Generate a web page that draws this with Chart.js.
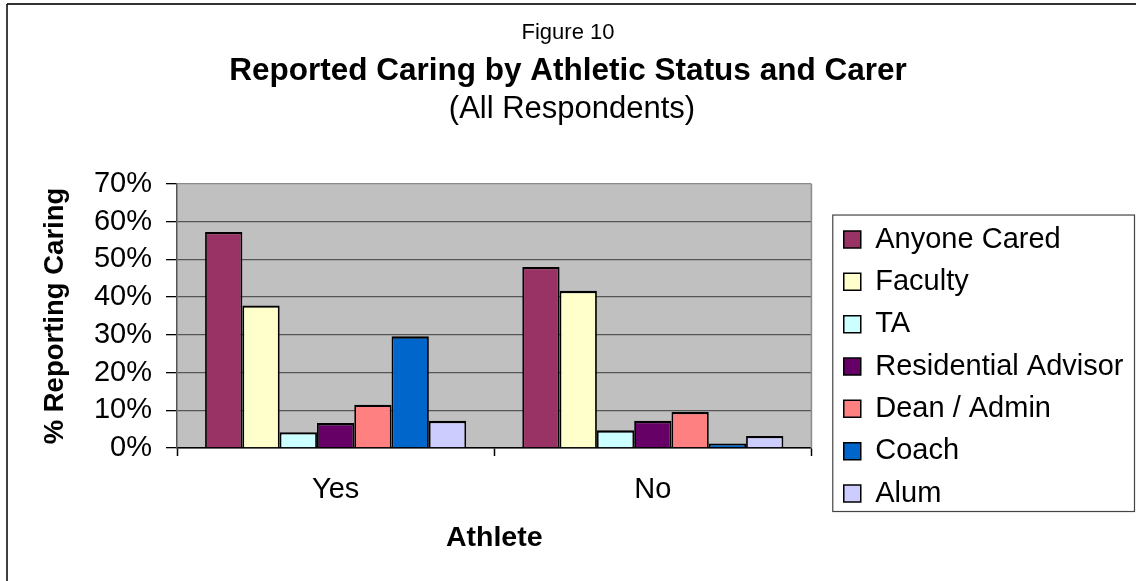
<!DOCTYPE html>
<html>
<head>
<meta charset="utf-8">
<title>Figure 10</title>
<script src="https://cdn.jsdelivr.net/npm/chart.js@4.4.0/dist/chart.umd.min.js"></script>
<style>
  html, body { margin: 0; padding: 0; background: #fff; }
  #wrap { position: relative; width: 1136px; height: 581px; }
</style>
</head>
<body>
<div id="wrap"><canvas id="figure10"></canvas></div>
<script>
// categories on the x axis and the carer series
const athlete = ['Yes', 'No'];
const carers = ['Anyone Cared', 'Faculty', 'TA', 'Residential Advisor', 'Dean / Admin', 'Coach', 'Alum'];

// % reporting caring, [Yes, No]
const anyoneCared = [57.3, 48.0];
const faculty = [37.8, 41.7];
const ta = [4.2, 4.7];
const residentialAdvisor = [6.6, 7.2];
const deanAdmin = [11.5, 9.6];
const coach = [29.6, 1.2];
const alum = [7.2, 3.2];

const yTickLabels = ['0%', '10%', '20%', '30%', '40%', '50%', '60%', '70%'];

const series = [anyoneCared, faculty, ta, residentialAdvisor, deanAdmin, coach, alum];
const barColors = ['#993366', '#FFFFCC', '#CCFFFF', '#660066', '#FF8080', '#0066CC', '#CCCCFF'];
const FONT = '"Liberation Sans", Arial, sans-serif';

// grey plot area, the heading lines, the outer frame and the legend box
const decorations = {
  id: 'decorations',
  beforeDraw(chart) {
    const {ctx, chartArea: a} = chart;
    ctx.save();
    ctx.fillStyle = '#C0C0C0';
    ctx.fillRect(a.left, a.top, a.right - a.left, a.bottom - a.top);
    ctx.restore();
  },
  afterDraw(chart) {
    const {ctx, chartArea: a} = chart;
    const cx = chart.width / 2;
    ctx.save();
    ctx.fillStyle = '#000';
    ctx.textAlign = 'center';
    ctx.textBaseline = 'alphabetic';
    ctx.font = '22px ' + FONT;
    ctx.fillText('Figure 10', cx, 39);
    ctx.textBaseline = 'middle';
    ctx.font = 'bold 31.5px ' + FONT;
    ctx.fillText('Reported Caring by Athletic Status and Carer', cx, 71);
    ctx.font = '31px ' + FONT;
    ctx.fillText('(All Respondents)', cx + 4, 109);

    // plot border on the right
    ctx.strokeStyle = '#8a8a8a';
    ctx.lineWidth = 1.5;
    ctx.beginPath();
    ctx.moveTo(a.right, a.top);
    ctx.lineTo(a.right, a.bottom);
    ctx.stroke();

    // outer frame (only top and left are inside the picture)
    ctx.strokeStyle = '#333';
    ctx.lineWidth = 2;
    ctx.beginPath();
    ctx.moveTo(7, 4);
    ctx.lineTo(chart.width, 4);
    ctx.stroke();
    ctx.strokeStyle = '#000';
    ctx.lineWidth = 1.5;
    ctx.beginPath();
    ctx.moveTo(7, 4);
    ctx.lineTo(7, chart.height);
    ctx.stroke();

    // legend box
    const lg = chart.legend;
    const hb = lg.legendHitBoxes;
    if (hb && hb.length) {
      const pad = lg.options.labels.padding;
      const top = hb[0].top - 10;
      const bottom = hb[hb.length - 1].top + hb[hb.length - 1].height + 3.5;
      const left = lg.left + pad - 11;
      const right = chart.width - 1.5;
      ctx.strokeStyle = '#444';
      ctx.lineWidth = 1.2;
      ctx.strokeRect(left, top, right - left, bottom - top);
    }
    ctx.restore();
  }
};

new Chart(document.getElementById('figure10'), {
  type: 'bar',
  data: {
    labels: athlete,
    datasets: carers.map((name, i) => ({
      label: name,
      data: series[i],
      backgroundColor: barColors[i],
      borderColor: '#000',
      borderWidth: {top: 2.4, left: 1.8, right: 1.8, bottom: 0},
      borderSkipped: 'start',
      categoryPercentage: 0.823,
      barPercentage: 1
    }))
  },
  options: {
    responsive: true,
    maintainAspectRatio: false,
    animation: false,
    devicePixelRatio: 1,
    layout: { padding: { top: 184, left: 20, right: 2.5, bottom: 21 } },
    plugins: {
      title: { display: false },
      tooltip: { enabled: false },
      legend: {
        position: 'right',
        align: 'start',
        maxWidth: 400,
        title: { display: true, text: '', font: { size: 10 }, padding: { top: 15.7, bottom: 0 } },
        labels: {
          color: '#000',
          font: { family: FONT, size: 29 },
          boxWidth: 17,
          boxHeight: 17,
          padding: 13.33,
          generateLabels(chart) {
            return Chart.defaults.plugins.legend.labels.generateLabels(chart)
              .map(item => Object.assign(item, { lineWidth: 1.5 }));
          }
        }
      }
    },
    scales: {
      x: {
        grid: { display: true, drawOnChartArea: false, tickLength: 8, tickColor: '#000', tickWidth: 1.5 },
        border: { display: true, color: '#000', width: 1.5 },
        ticks: { color: '#000', font: { family: FONT, size: 29 }, padding: 16.6 },
        title: {
          display: true,
          text: 'Athlete',
          color: '#000',
          font: { family: FONT, size: 28.5, weight: 'bold' },
          padding: { top: 0, bottom: 4.9 }
        },
        afterFit(scale) { scale.height = 112; }
      },
      y: {
        min: 0,
        max: 70,
        ticks: {
          stepSize: 10,
          autoSkip: false,
          color: '#000',
          font: { family: FONT, size: 29 },
          padding: 14,
          callback: (value, index) => yTickLabels[index]
        },
        grid: {
          color: ctx => (ctx.tick && ctx.tick.value === 70 ? '#8a8a8a' : '#555'),
          lineWidth: 1.3,
          tickLength: 11,
          tickColor: '#000',
          tickWidth: 1.3
        },
        border: { display: true, color: '#555', width: 1.5 },
        title: {
          display: true,
          text: '% Reporting Caring',
          color: '#000',
          font: { family: FONT, size: 27.5, weight: 'bold' },
          padding: { top: 18.5, bottom: 0 }
        },
        afterFit(scale) { scale.width = 157; }
      },
      y2: {
        position: 'right',
        display: true,
        grid: { display: false, drawTicks: false },
        border: { display: false },
        ticks: { display: false },
        afterFit(scale) { scale.width = 19; }
      }
    }
  },
  plugins: [decorations]
});
</script>
</body>
</html>
